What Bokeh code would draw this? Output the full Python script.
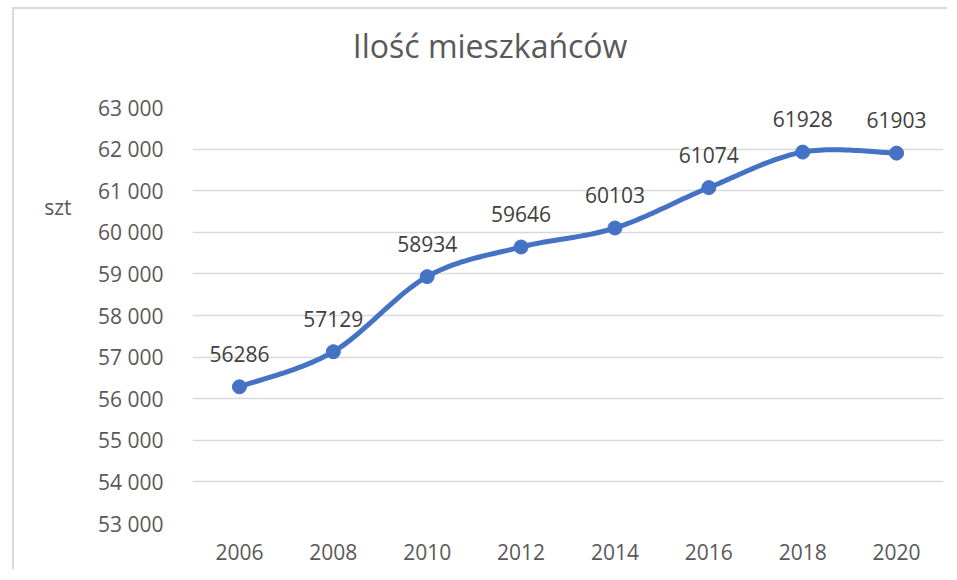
from bokeh.plotting import figure
from bokeh.models import Range1d, FixedTicker, LinearAxis, ColumnDataSource
from bokeh.embed import file_html
from bokeh.resources import INLINE
from bokeh.core.properties import value

# ---- data ----
YEARS = ["2006", "2008", "2010", "2012", "2014", "2016", "2018", "2020"]
POPULATION = [56286, 57129, 58934, 59646, 60103, 61074, 61928, 61903]
Y_TICKS = [53000, 54000, 55000, 56000, 57000, 58000, 59000, 60000, 61000, 62000, 63000]
Y_TICK_LABELS = ["53 000", "54 000", "55 000", "56 000", "57 000", "58 000",
                 "59 000", "60 000", "61 000", "62 000", "63 000"]
TITLE = "Ilość mieszkańców"
Y_UNIT = "szt"

# layout anchors (where the unit label and the chart title sit)
Y_UNIT_AT = 60600
TITLE_AT = 3.17

FONT = "Open Sans"
BLUE = "#4472C4"
GRID = "#D9D9D9"
TICK_COLOR = "#595959"
LABEL_COLOR = "#404040"

xs = [i + 0.5 for i in range(len(YEARS))]

# smooth (Catmull-Rom) curve through the data points, as Excel's "smoothed line"
def smooth(xv, yv, steps=30):
    n = len(xv)
    ox, oy = [], []
    for i in range(n - 1):
        p0 = (xv[max(i - 1, 0)], yv[max(i - 1, 0)])
        p1 = (xv[i], yv[i])
        p2 = (xv[i + 1], yv[i + 1])
        p3 = (xv[min(i + 2, n - 1)], yv[min(i + 2, n - 1)])
        c1 = (p1[0] + (p2[0] - p0[0]) / 6, p1[1] + (p2[1] - p0[1]) / 6)
        c2 = (p2[0] - (p3[0] - p1[0]) / 6, p2[1] - (p3[1] - p1[1]) / 6)
        for s in range(steps + (1 if i == n - 2 else 0)):
            t = s / steps
            a = (1 - t) ** 3
            b = 3 * (1 - t) ** 2 * t
            c = 3 * (1 - t) * t ** 2
            d = t ** 3
            ox.append(a * p1[0] + b * c1[0] + c * c2[0] + d * p2[0])
            oy.append(a * p1[1] + b * c1[1] + c * c2[1] + d * p2[1])
    return ox, oy

cx, cy = smooth(xs, POPULATION)

p = figure(width=935, height=562, output_backend="svg", toolbar_location=None,
           x_range=Range1d(0, len(YEARS)), y_range=Range1d(Y_TICKS[0], Y_TICKS[-1]),
           min_border_left=178, min_border_right=6, min_border_top=98, min_border_bottom=48)

p.styles = {"border-top": "2px solid #D9D9D9", "border-left": "2px solid #D9D9D9",
            "margin-left": "12px", "margin-top": "7px"}

p.outline_line_color = None
p.background_fill_color = "white"
p.border_fill_color = "white"

x_axis = p.below[0]
y_axis = p.left[0]

# axes
x_axis.ticker = FixedTicker(ticks=xs)
x_axis.major_label_overrides = {x: y for x, y in zip(xs, YEARS)}
y_axis.ticker = FixedTicker(ticks=Y_TICKS)
y_axis.major_label_overrides = {t: l for t, l in zip(Y_TICKS, Y_TICK_LABELS)}

unit_axis = LinearAxis(ticker=FixedTicker(ticks=[Y_UNIT_AT]),
                       major_label_overrides={Y_UNIT_AT: Y_UNIT})
p.add_layout(unit_axis, "left")

# chart title, drawn as the single label of an axis above the plot
title_axis = LinearAxis(ticker=FixedTicker(ticks=[TITLE_AT]),
                        major_label_overrides={TITLE_AT: TITLE})
p.add_layout(title_axis, "above")

for ax in (x_axis, y_axis, unit_axis, title_axis):
    ax.axis_line_color = None
    ax.major_tick_line_color = None
    ax.minor_tick_line_color = None
    ax.major_label_text_font = FONT
    ax.major_label_text_font_size = "21px"
    ax.major_label_text_color = TICK_COLOR
title_axis.major_label_text_font_size = "32px"
title_axis.major_label_standoff = 35
y_axis.major_label_standoff = 23
unit_axis.major_label_standoff = 18
x_axis.major_label_standoff = 14

p.xgrid.grid_line_color = None
p.ygrid.grid_line_color = GRID
p.ygrid.grid_line_width = 1.5
p.ygrid.ticker = FixedTicker(ticks=Y_TICKS)

# line and markers
p.line(cx, cy, line_color=BLUE, line_width=5, line_cap="round", line_join="round")
src = ColumnDataSource(dict(x=xs, y=POPULATION, t=[str(v) for v in POPULATION]))
p.scatter("x", "y", source=src, size=14, fill_color=BLUE, line_color=BLUE)
p.text("x", "y", text="t", source=src, text_align="center", text_baseline="middle",
       y_offset=-33, text_font=value(FONT), text_font_size="21px", text_color=LABEL_COLOR)

open("out.html", "w").write(file_html(p, INLINE))
